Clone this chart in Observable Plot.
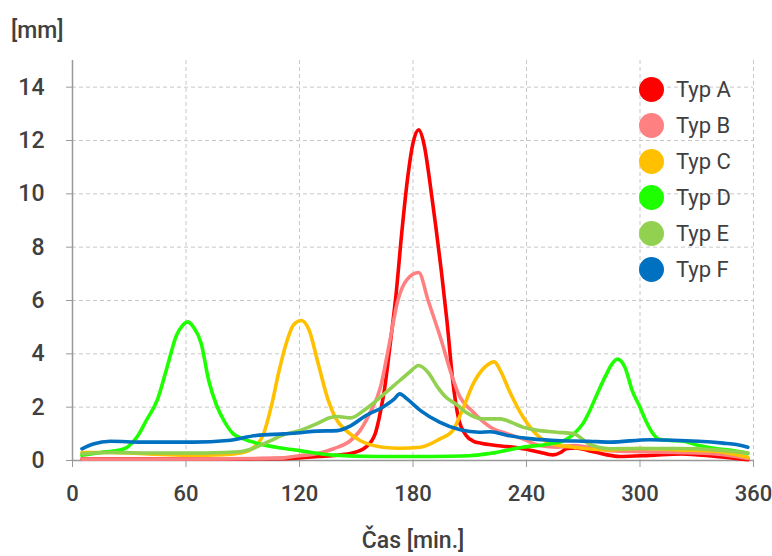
<!DOCTYPE html>
<html>
<head>
<meta charset="utf-8">
<script src="https://cdn.jsdelivr.net/npm/d3@7"></script>
<script src="https://cdn.jsdelivr.net/npm/@observablehq/plot@0.6"></script>
<style>
  html, body { margin: 0; padding: 0; background: #fff; }
  #wrap { position: relative; width: 772px; height: 556px; font-family: Roboto, "Noto Sans", sans-serif; }
  #ylab { position: absolute; left: 11px; top: 17px; font-size: 23px; font-weight: 500; color: #404040; }
  #xlab { position: absolute; left: 0; width: 826px; text-align: center; top: 527px; font-size: 23px; font-weight: 500; color: #404040; }
  #legend { position: absolute; left: 639px; top: 71px; }
  .row { display: flex; align-items: center; height: 36px; }
  .dot { width: 25px; height: 25px; border-radius: 50%; margin-right: 12px; }
  .lt { font-size: 22px; color: #404040; }
</style>
</head>
<body>
<div id="wrap">
  <div id="chart"></div>
  <div id="ylab">[mm]</div>
  <div id="xlab">Čas [min.]</div>
  <div id="legend"></div>
</div>
<script>
const seriesNames = ["Typ A", "Typ B", "Typ C", "Typ D", "Typ E", "Typ F"];
const seriesColors = ["#ff0000", "#ff8080", "#ffc000", "#1eff00", "#92d050", "#0070c0"];
const xTicks = [0, 60, 120, 180, 240, 300, 360];
const yTicks = [0, 2, 4, 6, 8, 10, 12, 14];

const tA = [5,30,60,90,110,120,130,140,148,155,160,163,165,168,171,174,177,180,183,186,189,192,195,198,201,204,208,212,216,222,230,238,247,254,258,261,266,273,282,289,305,322,340,357];
const vA = [0.06,0.06,0.06,0.06,0.07,0.1,0.15,0.2,0.28,0.5,1.0,1.9,2.7,4.4,6.2,8.5,10.5,11.9,12.4,11.8,10.4,8.8,7.1,5.2,3.0,1.6,0.95,0.72,0.65,0.58,0.52,0.44,0.31,0.21,0.3,0.44,0.47,0.37,0.22,0.15,0.19,0.25,0.15,0.03];

const tB = [5,40,80,100,112,120,129,138,147,152,157,163,167,172,177,183,188,195,200,204,212,221,230,238,247,256,265,273,284,300,320,340,357];
const vB = [0.05,0.05,0.06,0.08,0.1,0.18,0.25,0.44,0.75,1.12,1.75,2.8,4.2,6.0,6.8,7.05,6.0,4.5,3.3,2.5,1.8,1.25,1.0,0.81,0.56,0.5,0.56,0.5,0.37,0.33,0.3,0.25,0.08];

const tC = [5,20,40,60,80,90,95,101,105,109,113,117,121,125,130,135,139,145,152,164,173,184,194,201,206,212,218,223,226,231,238,247,254,265,284,300,320,340,357];
const vC = [0.3,0.3,0.25,0.2,0.22,0.3,0.45,1.0,2.0,3.3,4.4,5.1,5.25,4.9,3.6,2.3,1.6,1.1,0.75,0.5,0.46,0.5,0.8,1.12,1.87,2.9,3.5,3.7,3.4,2.6,1.65,0.87,0.62,0.5,0.4,0.45,0.4,0.35,0.12];

const tD = [5,15,24,29,34,39,45,50,55,58,61,64,68,72,76,80,85,90,99,112,120,138,160,190,210,221,238,252,260,265,270,273,278,282,285,288,292,296,300,303,306,310,316,323,331,340,349,357];
const vD = [0.2,0.3,0.38,0.5,0.87,1.5,2.3,3.5,4.7,5.05,5.2,5.0,4.4,3.0,2.1,1.5,1.0,0.82,0.62,0.45,0.37,0.2,0.15,0.15,0.18,0.27,0.5,0.62,0.75,1.0,1.4,1.8,2.6,3.2,3.6,3.8,3.5,2.6,2.0,1.5,1.1,0.8,0.75,0.72,0.56,0.45,0.37,0.27];

const tE = [5,20,40,60,80,90,95,103,112,120,129,136,140,147,155,164,173,178,183,188,193,197,203,208,217,226,233,238,247,256,265,273,284,300,320,340,357];
const vE = [0.25,0.3,0.28,0.28,0.3,0.35,0.44,0.69,0.97,1.12,1.37,1.6,1.65,1.6,1.93,2.45,3.0,3.3,3.56,3.3,2.75,2.4,2.1,1.81,1.56,1.56,1.4,1.25,1.12,1.06,1.0,0.62,0.44,0.45,0.45,0.4,0.28];

const tF = [5,11,20,37,64,82,97,112,120,129,140,147,155,164,170,173,177,184,194,205,215,221,230,243,256,273,284,305,331,344,351,357];
const vF = [0.44,0.62,0.72,0.69,0.69,0.75,0.94,1.0,1.04,1.1,1.12,1.3,1.68,2.0,2.3,2.5,2.3,1.87,1.44,1.15,1.06,1.08,0.94,0.81,0.75,0.72,0.69,0.78,0.72,0.65,0.6,0.5];

const times = [tA, tB, tC, tD, tE, tF];
const values = [vA, vB, vC, vD, vE, vF];
const data = [];
seriesNames.forEach((s, i) => times[i].forEach((t, j) => data.push({series: s, t, v: values[i][j]})));

const chart = Plot.plot({
  width: 772,
  height: 556,
  marginTop: 60,
  marginBottom: 96,
  marginLeft: 72,
  marginRight: 19,
  style: {fontFamily: "Roboto, sans-serif", background: "#fff"},
  x: {domain: [0, 360]},
  y: {domain: [0, 15]},
  color: {domain: seriesNames, range: seriesColors},
  marks: [
    Plot.gridX(xTicks, {stroke: "#c8c8c8", strokeOpacity: 1, strokeDasharray: "4,3"}),
    Plot.gridY(yTicks, {stroke: "#c8c8c8", strokeOpacity: 1, strokeDasharray: "4,3"}),
    Plot.axisY(yTicks, {tickSize: 6, tickPadding: 22, fontSize: 23, fontWeight: 500, fill: "#404040", stroke: "#999", label: null}),
    Plot.axisX(xTicks, {tickSize: 7, tickPadding: 18, fontSize: 22, fontWeight: 500, fill: "#404040", stroke: "#999", label: null}),
    Plot.ruleX([0], {stroke: "#999", strokeWidth: 1.5}),
    Plot.ruleY([0], {stroke: "#999", strokeWidth: 1.5}),
    Plot.line(data, {x: "t", y: "v", z: "series", stroke: "series", curve: "monotone-x", strokeWidth: 3.6, strokeLinejoin: "round", strokeLinecap: "round"})
  ]
});
document.getElementById("chart").appendChild(chart);

const leg = document.getElementById("legend");
seriesNames.forEach((s, i) => {
  const row = document.createElement("div");
  row.className = "row";
  row.innerHTML = `<div class="dot" style="background:${seriesColors[i]}"></div><span class="lt">${s}</span>`;
  leg.appendChild(row);
});
</script>
</body>
</html>
